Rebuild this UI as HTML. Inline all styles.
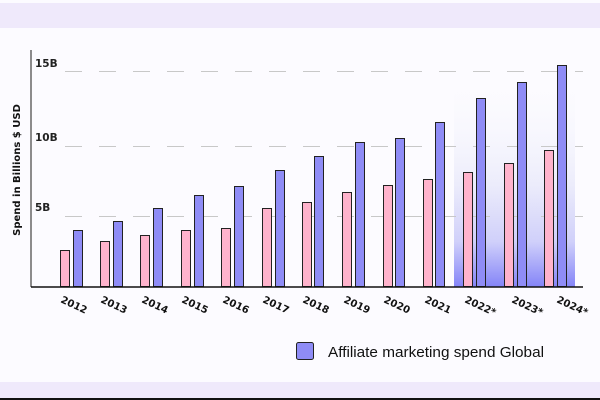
<!DOCTYPE html>
<html><head><meta charset="utf-8"><style>
html,body{margin:0;padding:0;width:600px;height:400px;overflow:hidden;background:#fbfaff;}
svg{display:block;font-family:"DejaVu Sans","Liberation Sans",sans-serif;}
</style></head><body>
<svg width="600" height="400" viewBox="0 0 600 400">
<defs>
<linearGradient id="sh" x1="0" y1="0" x2="0" y2="1">
<stop offset="0" stop-color="#ffffff" stop-opacity="0"/>
<stop offset="0.55" stop-color="#ececfb"/>
<stop offset="0.8" stop-color="#d0d0fa"/>
<stop offset="1" stop-color="#8484f8"/>
</linearGradient>
</defs>
<rect x="0" y="0" width="600" height="400" fill="#fcfbff"/>
<rect x="0" y="3" width="600" height="25" fill="#efe9fb"/>
<rect x="0" y="382" width="600" height="16" fill="#efe9fb"/>
<rect x="0" y="398" width="600" height="2" fill="#111"/>
<rect x="454" y="60" width="121" height="227" fill="url(#sh)"/>
<g stroke="#c8c8c8" stroke-width="1" stroke-dasharray="17,17">
<line x1="65" y1="71.5" x2="583" y2="71.5"/>
<line x1="65" y1="146.5" x2="583" y2="146.5"/>
<line x1="65" y1="216.5" x2="583" y2="216.5"/>
</g>
<g font-size="10.5" fill="#222" font-weight="600">
<text x="35" y="67">15B</text>
<text x="35" y="141">10B</text>
<text x="35" y="211">5B</text>
</g>
<text transform="translate(20,170) rotate(-90)" text-anchor="middle" font-size="10" font-weight="600" fill="#111">Spend in Billions $ USD</text>
<g stroke="#222" stroke-width="1">
<rect x="60.5" y="250.5" width="9" height="36" fill="#ffb3cc"/><rect x="73.5" y="230.5" width="9" height="56" fill="#8f8cf6"/>
<rect x="100.5" y="241.5" width="9" height="45" fill="#ffb3cc"/><rect x="113.5" y="221.5" width="9" height="65" fill="#8f8cf6"/>
<rect x="140.5" y="235.5" width="9" height="51" fill="#ffb3cc"/><rect x="153.5" y="208.5" width="9" height="78" fill="#8f8cf6"/>
<rect x="181.5" y="230.5" width="9" height="56" fill="#ffb3cc"/><rect x="194.5" y="195.5" width="9" height="91" fill="#8f8cf6"/>
<rect x="221.5" y="228.5" width="9" height="58" fill="#ffb3cc"/><rect x="234.5" y="186.5" width="9" height="100" fill="#8f8cf6"/>
<rect x="262.5" y="208.5" width="9" height="78" fill="#ffb3cc"/><rect x="275.5" y="170.5" width="9" height="116" fill="#8f8cf6"/>
<rect x="302.5" y="202.5" width="9" height="84" fill="#ffb3cc"/><rect x="314.5" y="156.5" width="9" height="130" fill="#8f8cf6"/>
<rect x="342.5" y="192.5" width="9" height="94" fill="#ffb3cc"/><rect x="355.5" y="142.5" width="9" height="144" fill="#8f8cf6"/>
<rect x="383.5" y="185.5" width="9" height="101" fill="#ffb3cc"/><rect x="395.5" y="138.5" width="9" height="148" fill="#8f8cf6"/>
<rect x="423.5" y="179.5" width="9" height="107" fill="#ffb3cc"/><rect x="435.5" y="122.5" width="9" height="164" fill="#8f8cf6"/>
<rect x="463.5" y="172.5" width="9" height="114" fill="#ffb3cc"/><rect x="476.5" y="98.5" width="9" height="188" fill="#8f8cf6"/>
<rect x="504.5" y="163.5" width="9" height="123" fill="#ffb3cc"/><rect x="517.5" y="82.5" width="9" height="204" fill="#8f8cf6"/>
<rect x="544.5" y="150.5" width="9" height="136" fill="#ffb3cc"/><rect x="557.5" y="65.5" width="9" height="221" fill="#8f8cf6"/>
</g>
<line x1="31" y1="50" x2="31" y2="287" stroke="#666" stroke-width="1.5"/>
<line x1="31" y1="287" x2="583" y2="287" stroke="#111" stroke-width="1.5"/>
<g font-size="10" fill="#111" font-weight="600">
<text transform="translate(60,302) rotate(25)">2012</text>
<text transform="translate(100,302) rotate(25)">2013</text>
<text transform="translate(141,302) rotate(25)">2014</text>
<text transform="translate(181,302) rotate(25)">2015</text>
<text transform="translate(222,302) rotate(25)">2016</text>
<text transform="translate(262,302) rotate(25)">2017</text>
<text transform="translate(302,302) rotate(25)">2018</text>
<text transform="translate(343,302) rotate(25)">2019</text>
<text transform="translate(383,302) rotate(25)">2020</text>
<text transform="translate(424,302) rotate(25)">2021</text>
<text transform="translate(464,302) rotate(25)">2022*</text>
<text transform="translate(511,302) rotate(25)">2023*</text>
<text transform="translate(556,302) rotate(25)">2024*</text>
</g>
<rect x="296.5" y="342.5" width="17" height="17" rx="2" fill="#8f8cf6" stroke="#222" stroke-width="1"/>
<text x="328" y="357" font-size="15" fill="#111" font-family="Liberation Sans, sans-serif" textLength="216" lengthAdjust="spacingAndGlyphs">Affiliate marketing spend Global</text>
</svg>
</body></html>
